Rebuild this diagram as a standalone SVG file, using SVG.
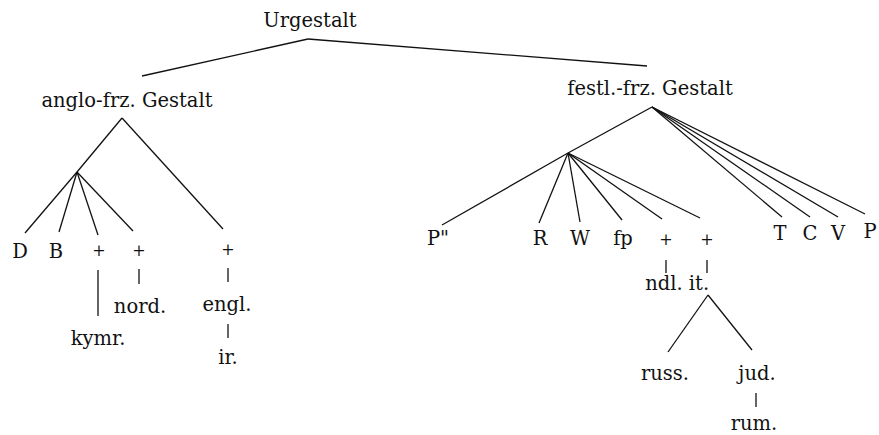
<svg xmlns="http://www.w3.org/2000/svg" width="879" height="435" viewBox="0 0 879 435">
<style>
text{font-family:'DejaVu Serif',serif;font-size:19.5px;fill:#111;text-anchor:middle}
text.p{font-size:16px}
.c line{stroke:#111;stroke-width:1.3;fill:none}
</style>
<rect width="879" height="435" fill="#fff"/>
<g class="c" id="connectors">
<line x1="308" y1="39" x2="142" y2="76"/>
<line x1="308" y1="39" x2="647" y2="66"/>
<line x1="122" y1="118" x2="77" y2="172"/>
<line x1="122" y1="118" x2="223" y2="229"/>
<line x1="77" y1="172" x2="25" y2="233"/>
<line x1="77" y1="172" x2="59" y2="232"/>
<line x1="77" y1="172" x2="98" y2="235"/>
<line x1="77" y1="172" x2="133" y2="231"/>
<line x1="98" y1="270" x2="98" y2="316"/>
<line x1="139" y1="269" x2="139" y2="284"/>
<line x1="228" y1="268" x2="228" y2="282"/>
<line x1="228" y1="324" x2="228" y2="338"/>
<line x1="652" y1="107" x2="568" y2="153"/>
<line x1="568" y1="153" x2="442" y2="225"/>
<line x1="568" y1="153" x2="539" y2="223"/>
<line x1="568" y1="153" x2="580" y2="222"/>
<line x1="568" y1="153" x2="622" y2="220"/>
<line x1="568" y1="153" x2="662" y2="219"/>
<line x1="568" y1="153" x2="700" y2="218"/>
<line x1="652" y1="107" x2="782" y2="217"/>
<line x1="652" y1="107" x2="810" y2="217"/>
<line x1="652" y1="107" x2="838" y2="217"/>
<line x1="652" y1="107" x2="865" y2="214"/>
<line x1="666" y1="260" x2="666" y2="273"/>
<line x1="707" y1="260" x2="707" y2="273"/>
<line x1="708" y1="295" x2="668" y2="352"/>
<line x1="708" y1="295" x2="752" y2="350"/>
<line x1="756" y1="393" x2="756" y2="407"/>
</g>
<g id="urgestalt"><text x="310" y="27">Urgestalt</text></g>
<g id="anglo"><text x="127" y="107">anglo-frz. Gestalt</text></g>
<g id="festl"><text x="650" y="95">festl.-frz. Gestalt</text></g>
<g id="D"><text x="20" y="258">D</text></g>
<g id="B"><text x="56" y="258">B</text></g>
<g id="plus1"><text class="p" x="99" y="256">+</text></g>
<g id="plus2"><text class="p" x="139" y="256">+</text></g>
<g id="plus3"><text class="p" x="228" y="255">+</text></g>
<g id="nord"><text x="140" y="313">nord.</text></g>
<g id="kymr"><text x="98" y="345">kymr.</text></g>
<g id="engl"><text x="227" y="311">engl.</text></g>
<g id="ir"><text x="228" y="364">ir.</text></g>
<g id="P2"><text x="438" y="245">P"</text></g>
<g id="R"><text x="540" y="245">R</text></g>
<g id="W"><text x="580" y="245">W</text></g>
<g id="fp"><text x="623" y="245">fp</text></g>
<g id="plus4"><text class="p" x="666" y="245">+</text></g>
<g id="plus5"><text class="p" x="707" y="245">+</text></g>
<g id="T"><text x="780" y="240">T</text></g>
<g id="C"><text x="810" y="240">C</text></g>
<g id="V"><text x="838" y="240">V</text></g>
<g id="P"><text x="870" y="238">P</text></g>
<g id="ndl"><text x="664" y="290">ndl.</text></g>
<g id="it"><text x="699" y="290">it.</text></g>
<g id="russ"><text x="665" y="380">russ.</text></g>
<g id="jud"><text x="757" y="380">jud.</text></g>
<g id="rum"><text x="754" y="430">rum.</text></g>
</svg>
